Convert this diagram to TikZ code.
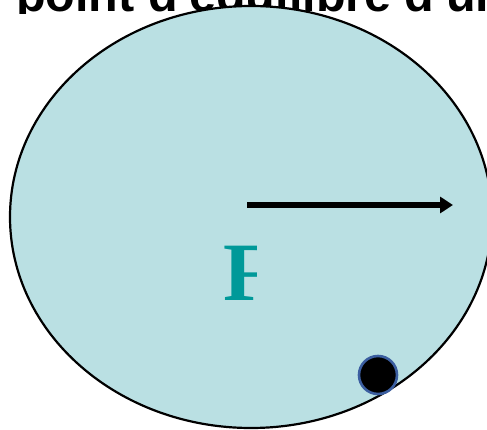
\documentclass[tikz,border=0pt]{standalone}
\usepackage{fontspec}
\setmainfont{Liberation Serif}
\newfontfamily\titlefont{Liberation Sans}
\usetikzlibrary{arrows.meta}
\definecolor{bodyfill}{RGB}{186,224,227}
\definecolor{forceteal}{RGB}{0,153,153}
\definecolor{dotedge}{RGB}{59,94,160}
\tikzset{
  bodyshape/.style={draw=black, line width=2.2pt, fill=bodyfill},
  forcearrow/.style={line width=5.5pt, -{Triangle[length=13pt,width=16pt]}},
  pointdot/.style={circle, fill=black, draw=dotedge, line width=2.6pt, minimum size=38pt, inner sep=0pt},
  titletext/.style={font=\titlefont\bfseries\fontsize{48.5}{52}\selectfont, anchor=base west, inner sep=0pt},
  forcelabel/.style={font=\bfseries\fontsize{83}{90}\selectfont, text=forceteal, anchor=base west, inner sep=0pt}
}
\begin{document}
\begin{tikzpicture}[x=1pt,y=-1pt]
\useasboundingbox (0,0) rectangle (487,430);
\clip (0,0) rectangle (487,430);
\begin{scope}
  \clip (0,-60) rectangle (487,13.5);
  \node[titletext] (title) at (16,12) {point d'équilibre d'un};
\end{scope}
\draw[bodyshape] (251,217) ellipse [x radius=241, y radius=211];
\coordinate (body) at (251,217);
\begin{scope}
  \clip (200,230) rectangle (256,310);
  \node[forcelabel] (flabel) at (223,300) {F};
\end{scope}
\coordinate (arrowstart) at (247,205);
\coordinate (arrowend) at (453,205);
\draw[forcearrow] (arrowstart) -- (arrowend);
\node[pointdot] (dot) at (378,375) {};
\end{tikzpicture}
\end{document}
